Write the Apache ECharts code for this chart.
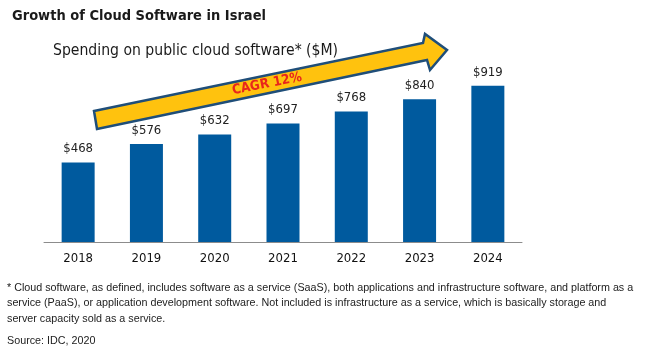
<!DOCTYPE html>
<html>
<head>
<meta charset="utf-8">
<script src="https://cdn.jsdelivr.net/npm/echarts@6/dist/echarts.min.js"></script>
<style>html,body{margin:0;padding:0;background:#fff;}#c{width:646px;height:360px;}</style>
</head>
<body>
<div id="c"></div>
<script>
const categories = ['2018','2019','2020','2021','2022','2023','2024'];
const spending = [468, 576, 632, 697, 768, 840, 919];
const footnoteLines = [
  '* Cloud software, as defined, includes software as a service (SaaS), both applications and infrastructure software, and platform as a',
  'service (PaaS), or application development software. Not included is infrastructure as a service, which is basically storage and',
  'server capacity sold as a service.'
];
const sourceText = 'Source: IDC, 2020';

const chart = echarts.init(document.getElementById('c'), null, {renderer: 'canvas'});
const tahoma = '"DejaVu Sans Condensed", "DejaVu Sans", sans-serif';
const footFont = '10.75px "Liberation Sans", Arial, sans-serif';
const option = {
  animation: false,
  backgroundColor: '#ffffff',
  title: [
    {text: 'Growth of Cloud Software in Israel', left: 7, top: 4,
     textStyle: {fontFamily: tahoma, fontWeight: 'bold', fontSize: 14.5, color: '#1a1a1a'}},
    {text: 'Spending on public cloud software* ($M)', left: 48, top: 38,
     textStyle: {fontFamily: tahoma, fontWeight: 'normal', fontSize: 15.6, color: '#1a1a1a'}}
  ],
  grid: {left: 44, right: 124, top: 72, bottom: 118},
  xAxis: {
    type: 'category', data: categories,
    axisLine: {lineStyle: {color: '#8c8c8c', width: 1}},
    axisTick: {length: 6, lineStyle: {color: '#8c8c8c'}},
    axisLabel: {fontFamily: tahoma, fontSize: 13, color: '#111', margin: 10}
  },
  yAxis: {type: 'value', min: 0, max: 1000, show: false, splitLine: {show: false}},
  series: [{
    type: 'bar', data: spending, barWidth: 33,
    itemStyle: {color: '#005A9E'},
    label: {show: true, position: 'top', distance: 7, formatter: p => '$' + p.value,
            fontFamily: tahoma, fontSize: 13, color: '#222'}
  }],
  graphic: [
    {type: 'polygon', z: 10,
     shape: {points: [[94,111],[423,43],[425,34],[447,50],[430,70],[427,60],[97,129]]},
     style: {fill: '#FFC20E', stroke: '#1F4E79', lineWidth: 2.5, lineJoin: 'miter'}},
    {type: 'text', z: 11, x: 267, y: 84, rotation: 0.196,
     style: {text: 'CAGR 12%', fill: '#E8261C', font: 'bold 13.5px ' + tahoma, align: 'center', verticalAlign: 'middle'}},
    {type: 'text', left: 7, top: 280,
     style: {text: footnoteLines.join('\n'), fill: '#222', font: footFont, lineHeight: 15.5}},
    {type: 'text', left: 7, top: 336,
     style: {text: sourceText, fill: '#222', font: footFont}}
  ]
};
chart.setOption(option);
</script>
</body>
</html>
